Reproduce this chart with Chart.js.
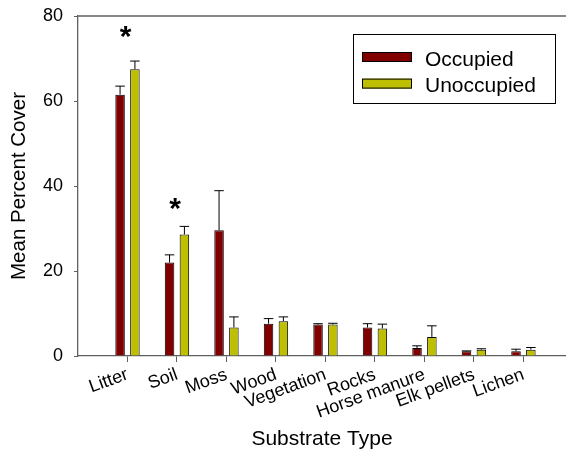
<!DOCTYPE html>
<html>
<head>
<meta charset="utf-8">
<script src="https://cdn.jsdelivr.net/npm/chart.js@4.4.0/dist/chart.umd.min.js"></script>
<style>
  html, body { margin: 0; padding: 0; background: #fff; }
</style>
</head>
<body>
<canvas id="chart" width="566" height="453"></canvas>
<script>
// Substrate categories and mean percent cover (+ SE)
const substrates = ['Litter', 'Soil', 'Moss', 'Wood', 'Vegetation', 'Rocks', 'Horse manure', 'Elk pellets', 'Lichen'];
const occupied = [61.5, 22.0, 29.6, 7.6, 7.4, 6.7, 1.9, 1.1, 1.1];
const occupiedErr = [2.0, 1.8, 9.3, 1.2, 0.2, 0.9, 0.5, 0.1, 0.5];
const unoccupied = [67.5, 28.6, 6.7, 8.2, 7.4, 6.5, 4.5, 1.5, 1.5];
const unoccupiedErr = [1.9, 1.9, 2.5, 1.0, 0.3, 1.0, 2.6, 0.2, 0.5];
const yTicks = [0, 20, 40, 60, 80];
// significant differences, marked with an asterisk
const starCats = ['Litter', 'Soil'];
const starY = [76, 35.3];

const FONT = "'Liberation Sans', Arial, sans-serif";
const AXIS_COLOR = '#606060';

const toPoints = arr => arr.map((v, i) => ({ x: i + 1, y: v }));

// error bars (upper only), drawn from the y scale
const errorBars = {
    id: 'errorBars',
    afterDatasetsDraw(chart) {
        const ctx = chart.ctx;
        const yScale = chart.scales.y;
        ctx.save();
        ctx.strokeStyle = '#000';
        ctx.lineWidth = 1;
        chart.data.datasets.forEach((ds, di) => {
            const meta = chart.getDatasetMeta(di);
            meta.data.forEach((bar, i) => {
                const top = yScale.getPixelForValue(ds.data[i].y + ds.errors[i]);
                const half = bar.width / 2;
                ctx.beginPath();
                ctx.moveTo(bar.x, bar.y);
                ctx.lineTo(bar.x, top);
                ctx.moveTo(bar.x - half, top);
                ctx.lineTo(bar.x + half, top);
                ctx.stroke();
            });
        });
        ctx.restore();
    }
};

// asterisks, top frame line and boxed legend
const extras = {
    id: 'extras',
    afterDraw(chart) {
        const ctx = chart.ctx;
        const area = chart.chartArea;
        const xs = chart.scales.x, ys = chart.scales.y;
        ctx.save();

        ctx.strokeStyle = AXIS_COLOR;
        ctx.lineWidth = 1.3;
        ctx.beginPath();
        ctx.moveTo(area.left, area.top);
        ctx.lineTo(area.right, area.top);
        ctx.stroke();

        ctx.fillStyle = '#000';
        ctx.font = 'bold 30px ' + FONT;
        ctx.textAlign = 'center';
        ctx.textBaseline = 'alphabetic';
        starCats.forEach((c, i) => {
            const px = xs.getPixelForValue(substrates.indexOf(c) + 1) - 2;
            const py = ys.getPixelForValue(starY[i]) + 12.5;
            ctx.fillText('*', px, py);
        });

        // legend
        ctx.strokeStyle = '#000';
        ctx.lineWidth = 1;
        ctx.strokeRect(353.5, 34.5, 202, 69);
        ctx.font = '21px ' + FONT;
        ctx.textAlign = 'left';
        chart.data.datasets.forEach((ds, i) => {
            const y = 52 + i * 26.6;
            ctx.fillStyle = ds.backgroundColor;
            ctx.fillRect(362, y, 50, 10);
            ctx.strokeRect(362.5, y + 0.5, 49, 9);
            ctx.fillStyle = '#000';
            ctx.fillText(ds.label, 425, y + 13.5);
        });
        ctx.restore();
    }
};

new Chart(document.getElementById('chart'), {
    type: 'bar',
    data: {
        datasets: [
            {
                label: 'Occupied',
                data: toPoints(occupied),
                errors: occupiedErr,
                backgroundColor: '#800000',
                borderColor: '#000',
                borderWidth: 1
            },
            {
                label: 'Unoccupied',
                data: toPoints(unoccupied),
                errors: unoccupiedErr,
                backgroundColor: '#bdbf00',
                borderColor: '#000',
                borderWidth: 1
            }
        ]
    },
    options: {
        responsive: false,
        animation: false,
        categoryPercentage: 0.6,
        barPercentage: 0.64,
        layout: { padding: { top: 16, right: 0, left: 0, bottom: 0 } },
        plugins: {
            legend: { display: false },
            tooltip: { enabled: false }
        },
        scales: {
            x: {
                type: 'linear',
                min: 0,
                max: 9.86,
                offset: false,
                afterBuildTicks: scale => {
                    scale.ticks = substrates.map((s, i) => ({ value: i + 1 }));
                },
                afterFit: scale => {
                    scale.height = 97;
                    scale.paddingLeft = 0;
                    scale.paddingRight = 0;
                },
                grid: { display: true, drawOnChartArea: false, offset: false, tickLength: 6, color: AXIS_COLOR },
                border: { display: true, color: AXIS_COLOR, width: 1.3 },
                ticks: {
                    autoSkip: false,
                    minRotation: 20,
                    maxRotation: 20,
                    padding: 2,
                    color: '#000',
                    font: { family: FONT, size: 18 },
                    callback: v => substrates[v - 1]
                },
                title: {
                    display: true,
                    text: 'Substrate Type',
                    color: '#000',
                    font: { family: FONT, size: 21 },
                    padding: { top: 0, bottom: 1 }
                }
            },
            y: {
                min: 0,
                max: 80,
                afterBuildTicks: scale => {
                    scale.ticks = yTicks.map(v => ({ value: v }));
                },
                afterFit: scale => {
                    scale.width = 78;
                    scale.paddingTop = 0;
                    scale.paddingBottom = 0;
                },
                grid: { display: true, drawOnChartArea: false, tickLength: 4, color: AXIS_COLOR },
                border: { display: true, color: AXIS_COLOR, width: 1.3 },
                ticks: {
                    padding: 11,
                    color: '#000',
                    font: { family: FONT, size: 18 }
                },
                title: {
                    display: true,
                    text: 'Mean Percent Cover',
                    color: '#000',
                    font: { family: FONT, size: 20.5 },
                    padding: { top: 7, bottom: 0 }
                }
            }
        }
    },
    plugins: [errorBars, extras]
});
</script>
</body>
</html>
